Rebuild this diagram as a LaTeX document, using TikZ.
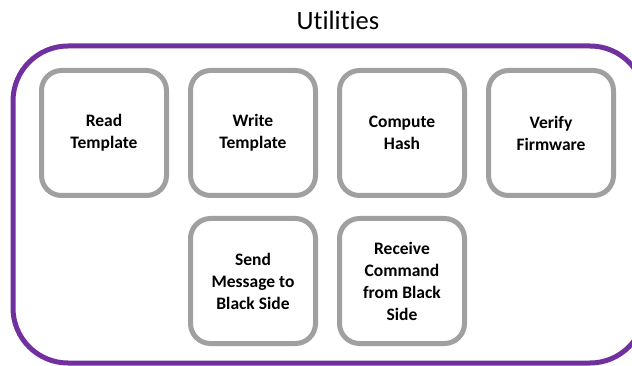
\documentclass[tikz,border=0pt]{standalone}
\usepackage{fontspec}
\setmainfont{Carlito}[Ligatures=NoCommon]
\usepackage{xcolor}
\usepackage{tikz}
\usetikzlibrary{positioning}
\definecolor{utilpurple}{HTML}{7030A0}
\definecolor{boxgray}{HTML}{A0A0A0}
\tikzset{
  utilbox/.style={draw=boxgray,line width=5pt,rounded corners=20pt,fill=white,
    minimum size=125pt,outer sep=0pt,align=center,
    font=\bfseries\fontsize{17.5}{22}\selectfont},
  frame/.style={draw=utilpurple,line width=5pt,rounded corners=55pt}
}

\begin{document}
\begin{tikzpicture}[x=1pt,y=-1pt,node distance=24pt]
    \useasboundingbox (0,0) rectangle (632,366);
    \clip (0,0) rectangle (632,366);
    \node[anchor=base,font=\fontsize{26.5}{30}\selectfont] (title) at (338,30) {Utilities};
    \draw[frame] (13,46) rectangle (645,363);
    % top row
    \node[utilbox] (read) at (104,133) {Read\\Template};
    \node[utilbox,right=of read] (write) {Write\\Template};
    \node[utilbox,right=of write] (hash) {Compute\\Hash};
    \node[utilbox,right=of hash] (verify) {Verify\\Firmware};
    % bottom row
    \node[utilbox,below=23pt of write] (send) {Send\\Message to\\Black Side};
    \node[utilbox,below=23pt of hash] (receive) {Receive\\Command\\from Black\\Side};
  \end{tikzpicture}
\end{document}
